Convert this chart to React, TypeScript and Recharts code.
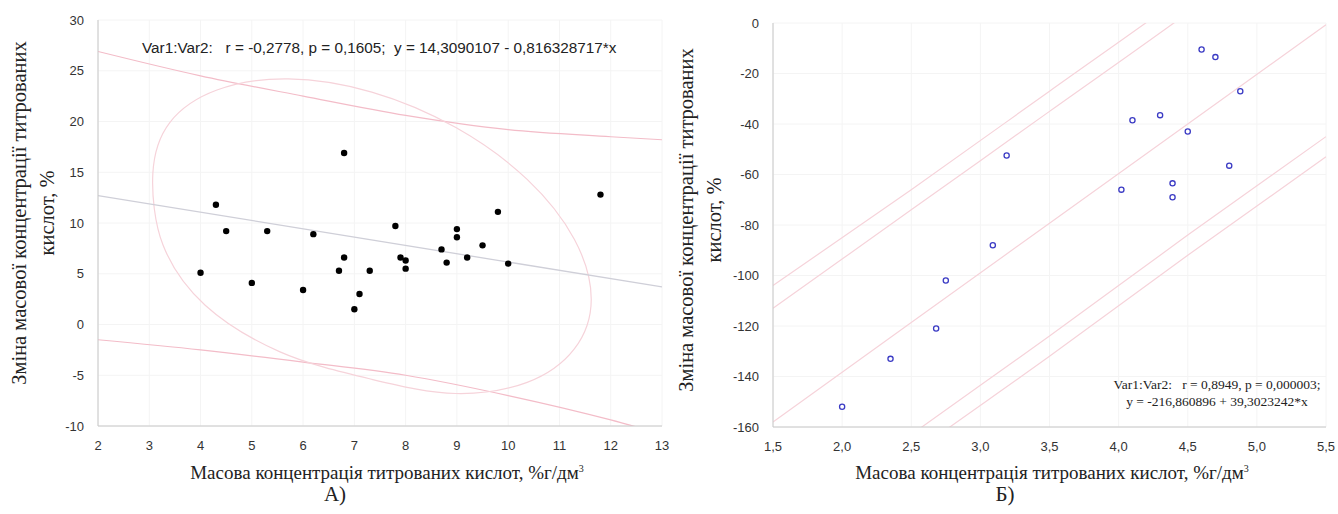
import { ComposedChart, Scatter, Line, XAxis, YAxis, CartesianGrid } from 'recharts';

// ---- Panel A data ----
const acidA = [4.0, 4.3, 4.5, 5.0, 5.3, 6.0, 6.2, 6.7, 6.8, 6.8, 7.0, 7.1, 7.3, 7.8, 7.9, 8.0, 8.0, 8.7, 8.8, 9.0, 9.0, 9.2, 9.5, 9.8, 10.0, 11.8];
const changeA = [5.1, 11.8, 9.2, 4.1, 9.2, 3.4, 8.9, 5.3, 6.6, 16.9, 1.5, 3.0, 5.3, 9.7, 6.6, 6.3, 5.5, 7.4, 6.1, 9.4, 8.6, 6.6, 7.8, 11.1, 6.0, 12.8];

const fitXA = [2, 13];
const fitYA = [12.7, 3.7];

const bandXA = [2, 4, 6, 8, 10, 12, 13];
const bandUpA = [26.9, 24.5, 22.5, 20.6, 19.2, 18.5, 18.2];
const bandLowA = [-1.5, -2.5, -3.7, -5.0, -7.0, -9.4, -10.8];

// 95% ellipse, traced around from the left-most point
const ellipseXA = [3.07, 3.4, 4.32, 5.71, 7.34, 8.98, 10.37, 11.29, 11.62, 11.29, 10.37, 8.98, 7.34, 5.55, 4.09, 3.27];
const ellipseYA = [14.9, 19.9, 23.1, 24.2, 22.9, 19.4, 14.3, 8.4, 2.5, -2.4, -5.7, -6.8, -5.4, -2.7, 1.9, 7.8];

const ticksXA = [2, 3, 4, 5, 6, 7, 8, 9, 10, 11, 12, 13];
const ticksYA = [30, 25, 20, 15, 10, 5, 0, -5, -10];

// ---- Panel B data ----
const acidB = [2.0, 2.35, 2.68, 2.75, 3.09, 3.19, 4.02, 4.1, 4.3, 4.39, 4.39, 4.5, 4.6, 4.7, 4.8, 4.88];
const changeB = [-152, -133, -121, -102, -88, -52.5, -66, -38.5, -36.5, -63.5, -69, -43, -10.5, -13.5, -56.5, -27];

const bandXB = [1.5, 2.5, 3.5, 4.5, 5.5];
const fitYB = [-158, -118.6, -79.3, -40, -0.7];
const upOuterB = [-104, -66, -27, 12, 53];
const upInnerB = [-113, -74, -35, 4, 45];
const lowInnerB = [-203, -163, -124, -84, -45];
const lowOuterB = [-212, -171, -132, -92, -53];

const ticksXB = [1.5, 2, 2.5, 3, 3.5, 4, 4.5, 5, 5.5];
const ticksYB = [0, -20, -40, -60, -80, -100, -120, -140, -160];

const minorA = Array.from({ length: 45 }, (_, i) => 2 + i * 0.25);
const minorB = Array.from({ length: 41 }, (_, i) => 1.5 + i * 0.1);

const pts = (xs: number[], ys: number[]) => xs.map((x, i) => ({ x, y: ys[i] }));

// closed smooth curve through the points (for the ellipse)
const closedCurve = (context: any) => {
  let p: number[][] = [];
  return {
    areaStart() {},
    areaEnd() {},
    lineStart() { p = []; },
    point(x: number, y: number) { p.push([+x, +y]); },
    lineEnd() {
      const n = p.length;
      if (!n) return;
      context.moveTo(p[0][0], p[0][1]);
      for (let i = 0; i < n; i++) {
        const a = p[(i - 1 + n) % n], b = p[i], c = p[(i + 1) % n], d = p[(i + 2) % n];
        context.bezierCurveTo(
          b[0] + (c[0] - a[0]) / 6, b[1] + (c[1] - a[1]) / 6,
          c[0] - (d[0] - b[0]) / 6, c[1] - (d[1] - b[1]) / 6,
          c[0], c[1],
        );
      }
      context.closePath();
    },
  };
};

const SANS = '"Liberation Sans", Arial, sans-serif';
const SERIF = '"Liberation Serif", "Times New Roman", serif';
const tickStyle = { fontSize: 13, fill: '#333', fontFamily: SANS };
const comma = (v: number) => String(v).replace('.', ',');
const comma1 = (v: number) => v.toFixed(1).replace('.', ',');

const PINK = '#f3bcc8';
const PINK_LIGHT = '#f6d3da';

function Dot(props: any) {
  return <circle cx={props.cx} cy={props.cy} r={3.2} fill="#000" />;
}
function Ring(props: any) {
  return <circle cx={props.cx} cy={props.cy} r={2.6} fill="#fff" stroke="#3b3bc4" strokeWidth={1.3} />;
}

function PanelA() {
  return (
    <ComposedChart width={680} height={514} margin={{ top: 20, right: 18, bottom: 58, left: 58 }}>
      <CartesianGrid stroke="#f4f4f4" />
      <XAxis xAxisId="top" orientation="top" type="number" domain={[2, 13]} allowDataOverflow ticks={minorA} height={0} mirror tickSize={3} tickFormatter={() => ''} axisLine={{ stroke: '#cfcfcf' }} tickLine={{ stroke: '#d0d0d0' }} />
      <XAxis xAxisId="minor" type="number" domain={[2, 13]} allowDataOverflow ticks={minorA} height={0} mirror tickSize={3} tickFormatter={() => ''} axisLine={false} tickLine={{ stroke: '#c0c0c0' }} />
      <XAxis dataKey="x" type="number" domain={[2, 13]} allowDataOverflow ticks={ticksXA} height={30} axisLine={{ stroke: '#c8c8c8' }} tickLine={false} tickMargin={9} tick={tickStyle} />
      <YAxis dataKey="y" type="number" domain={[-10, 30]} allowDataOverflow ticks={ticksYA} width={40} axisLine={{ stroke: '#c8c8c8' }} tickLine={false} tickMargin={8} tick={tickStyle} />
      <YAxis yAxisId="right" orientation="right" type="number" domain={[-10, 30]} width={0} tick={false} tickLine={false} axisLine={{ stroke: '#cfcfcf' }} />
      <Line data={pts(bandXA, bandUpA)} dataKey="y" type="monotone" stroke={PINK} strokeWidth={1.2} dot={false} activeDot={false} isAnimationActive={false} />
      <Line data={pts(bandXA, bandLowA)} dataKey="y" type="monotone" stroke={PINK} strokeWidth={1.2} dot={false} activeDot={false} isAnimationActive={false} />
      <Line data={pts(ellipseXA, ellipseYA)} dataKey="y" type={closedCurve as any} stroke={PINK_LIGHT} strokeWidth={1.2} dot={false} activeDot={false} isAnimationActive={false} />
      <Line data={pts(fitXA, fitYA)} dataKey="y" type="linear" stroke="#cfcfd8" strokeWidth={1.3} dot={false} activeDot={false} isAnimationActive={false} />
      <Scatter data={pts(acidA, changeA)} shape={Dot} isAnimationActive={false} />
    </ComposedChart>
  );
}

function PanelB() {
  return (
    <ComposedChart width={658} height={514} margin={{ top: 23, right: 12, bottom: 57, left: 53 }}>
      <CartesianGrid stroke="#f4f4f4" />
      <XAxis xAxisId="top" orientation="top" type="number" domain={[1.5, 5.5]} allowDataOverflow ticks={minorB} height={0} mirror tickSize={3} tickFormatter={() => ''} axisLine={{ stroke: '#cfcfcf' }} tickLine={{ stroke: '#d0d0d0' }} />
      <XAxis xAxisId="minor" type="number" domain={[1.5, 5.5]} allowDataOverflow ticks={minorB} height={0} mirror tickSize={3} tickFormatter={() => ''} axisLine={false} tickLine={{ stroke: '#c0c0c0' }} />
      <XAxis dataKey="x" type="number" domain={[1.5, 5.5]} allowDataOverflow ticks={ticksXB} height={30} axisLine={{ stroke: '#c8c8c8' }} tickLine={false} tickMargin={9} tick={tickStyle} tickFormatter={comma1} />
      <YAxis dataKey="y" type="number" domain={[-160, 0]} allowDataOverflow ticks={ticksYB} width={40} axisLine={{ stroke: '#c8c8c8' }} tickLine={false} tickMargin={8} tick={tickStyle} tickFormatter={comma} />
      <YAxis yAxisId="right" orientation="right" type="number" domain={[-160, 0]} width={0} tick={false} tickLine={false} axisLine={{ stroke: '#cfcfcf' }} />
      <Line data={pts(bandXB, upOuterB)} dataKey="y" type="monotone" stroke={PINK_LIGHT} strokeWidth={1.2} dot={false} activeDot={false} isAnimationActive={false} />
      <Line data={pts(bandXB, upInnerB)} dataKey="y" type="monotone" stroke={PINK_LIGHT} strokeWidth={1.2} dot={false} activeDot={false} isAnimationActive={false} />
      <Line data={pts(bandXB, fitYB)} dataKey="y" type="linear" stroke={PINK_LIGHT} strokeWidth={1.2} dot={false} activeDot={false} isAnimationActive={false} />
      <Line data={pts(bandXB, lowInnerB)} dataKey="y" type="monotone" stroke={PINK_LIGHT} strokeWidth={1.2} dot={false} activeDot={false} isAnimationActive={false} />
      <Line data={pts(bandXB, lowOuterB)} dataKey="y" type="monotone" stroke={PINK_LIGHT} strokeWidth={1.2} dot={false} activeDot={false} isAnimationActive={false} />
      <Scatter data={pts(acidB, changeB)} shape={Ring} isAnimationActive={false} />
    </ComposedChart>
  );
}

function YTitle({ cx, cy }: { cx: number; cy: number }) {
  return (
    <div
      style={{
        position: 'absolute', left: cx - 230, top: cy - 28, width: 460, height: 56,
        transform: 'rotate(-90deg)', transformOrigin: 'center',
        textAlign: 'center', fontFamily: SERIF, fontSize: 20.5, lineHeight: '28px', color: '#222',
      }}
    >
      Зміна масової концентрації титрованих<br />кислот, %
    </div>
  );
}

function XTitle({ cx }: { cx: number }) {
  return (
    <div style={{ position: 'absolute', left: cx - 260, top: 457, width: 520, textAlign: 'center', fontFamily: SERIF, fontSize: 19, color: '#222', lineHeight: '24px' }}>
      Масова концентрація титрованих кислот, %г/дм<sup style={{ fontSize: 10 }}>3</sup>
    </div>
  );
}

export default function App() {
  return (
    <div style={{ position: 'absolute', left: 0, top: 0, width: 1338, height: 514, background: '#fff', overflow: 'hidden' }}>
      <div style={{ position: 'absolute', left: 0, top: 0 }}>
        <PanelA />
      </div>
      <div style={{ position: 'absolute', left: 680, top: 0 }}>
        <PanelB />
      </div>

      <div style={{ position: 'absolute', left: 142, top: 39, fontFamily: SANS, fontSize: 15.3, lineHeight: '18px', whiteSpace: 'pre', color: '#222' }}>
        {'Var1:Var2:   r = -0,2778, p = 0,1605;  y = 14,3090107 - 0,816328717*x'}
      </div>
      <div style={{ position: 'absolute', left: 1097, top: 376, width: 240, textAlign: 'center', fontFamily: SERIF, fontSize: 13.5, lineHeight: '17px', whiteSpace: 'pre', color: '#222' }}>
        {'Var1:Var2:   r = 0,8949, p = 0,000003;\ny = -216,860896 + 39,3023242*x'}
      </div>

      <YTitle cx={33} cy={213} />
      <YTitle cx={700} cy={220} />
      <XTitle cx={387} />
      <XTitle cx={1052} />

      <div style={{ position: 'absolute', left: 310, top: 482, width: 50, textAlign: 'center', fontFamily: SERIF, fontSize: 21, color: '#222' }}>А)</div>
      <div style={{ position: 'absolute', left: 980, top: 482, width: 50, textAlign: 'center', fontFamily: SERIF, fontSize: 21, color: '#222' }}>Б)</div>
    </div>
  );
}
